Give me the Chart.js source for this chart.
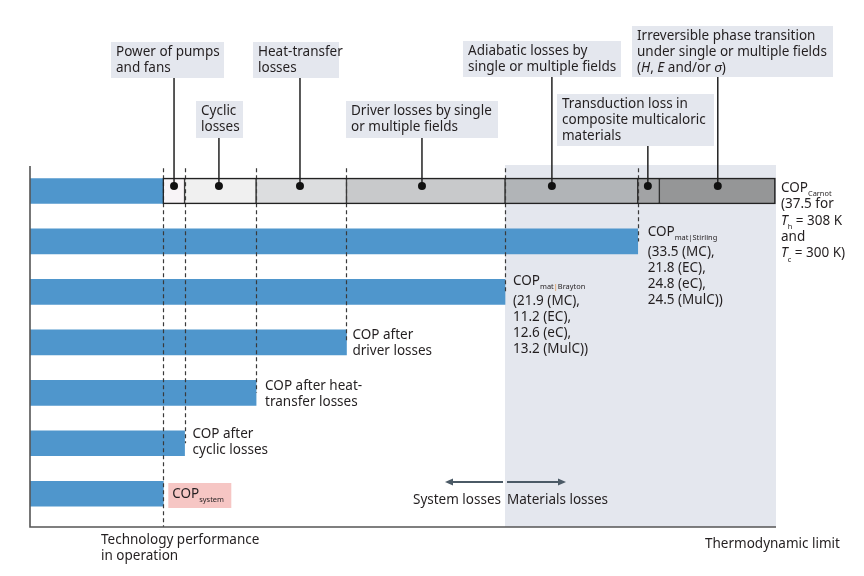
<!DOCTYPE html>
<html>
<head>
<meta charset="utf-8">
<script src="https://cdn.jsdelivr.net/npm/chart.js@4.4.1/dist/chart.umd.min.js"></script>
<style>
  html, body { margin: 0; padding: 0; background: #fff; }
  #wrap { width: 864px; height: 576px; }
</style>
</head>
<body>
<div id="wrap"><canvas id="c"></canvas></div>
<script>
// rows, top to bottom
const rowNames = ['COP_Carnot', 'COP_mat|Stirling', 'COP_mat|Brayton', 'COP after driver losses',
                  'COP after heat-transfer losses', 'COP after cyclic losses', 'COP_system'];
// blue bar length per row (COP scale, Carnot = 37.5)
const copValues = [6.71, 30.59, 23.91, 15.93, 11.38, 7.78, 6.71];

// loss segments stacked on the top row
const lossNames = ['Power of pumps and fans', 'Cyclic losses', 'Heat-transfer losses',
                   'Driver losses by single or multiple fields', 'Adiabatic losses by single or multiple fields',
                   'Transduction loss in composite multicaloric materials',
                   'Irreversible phase transition under single or multiple fields'];
const lossStart = [6.71, 7.78, 11.38, 15.93, 23.91, 30.59, 31.68];
const lossEnd   = [7.78, 11.38, 15.93, 23.91, 30.59, 31.68, 37.5];
// where each callout points on the top bar
const calloutAt = [7.25, 9.51, 13.59, 19.73, 26.27, 31.1, 34.62];

// dashed guides and the row they run down to
const guideValues = [6.71, 7.78, 11.38, 15.93, 23.91, 30.59];
const guideRows   = [6.66, 5, 4, 3, 2, 1];

const copCarnot = 37.5;
const materialsFrom = 23.91;

const FONT = '"Noto Sans"';
const INK = '#231f20';
const BLUE = '#4f96cc';
const lossColors = ['#f8f4f7', '#f0f0f0', '#dcdddf', '#c8c9cb', '#b1b4b7', '#a2a3a5', '#959697'];

// text with italic / subscript pieces
function rich(ctx, x, y, parts, size) {
  for (const p of parts) {
    const s = p.sub ? size * 0.55 : size;
    const dy = p.sub ? size * 0.32 : 0;
    ctx.font = (p.it ? 'italic ' : '') + s + 'px ' + FONT;
    ctx.fillStyle = p.color || INK;
    ctx.fillText(p.t, x, y + dy);
    x += ctx.measureText(p.t).width;
  }
}
function lines(ctx, x, y, arr, size, step) {
  arr.forEach((l, i) => {
    if (typeof l === 'string') l = [{ t: l }];
    rich(ctx, x, y + i * step, l, size);
  });
}

const callouts = [
  { box: [111, 42, 113, 36], text: ['Power of pumps', 'and fans'] },
  { box: [196, 101, 47, 37], text: ['Cyclic', 'losses'] },
  { box: [253, 42, 86, 36], text: ['Heat-transfer', 'losses'] },
  { box: [346, 101, 152, 37], text: ['Driver losses by single', 'or multiple fields'] },
  { box: [463, 41, 158, 36], text: ['Adiabatic losses by', 'single or multiple fields'] },
  { box: [557, 94, 157, 52], text: ['Transduction loss in', 'composite multicaloric', 'materials'] },
  { box: [632, 26, 201, 51], text: ['Irreversible phase transition', 'under single or multiple fields',
      [{ t: '(' }, { t: 'H', it: true }, { t: ', ' }, { t: 'E', it: true }, { t: ' and/or ' }, { t: 'σ', it: true }, { t: ')' }]] }
];

const decor = {
  id: 'decor',
  beforeDatasetsDraw(chart) {
    const { ctx, chartArea: a, scales: { x } } = chart;
    ctx.save();
    ctx.fillStyle = '#e4e7ee';
    ctx.fillRect(x.getPixelForValue(materialsFrom), a.top - 1, x.getPixelForValue(copCarnot) + 1 - x.getPixelForValue(materialsFrom), a.bottom - a.top + 1);
    ctx.restore();
  },
  afterDatasetsDraw(chart) {
    const { ctx, chartArea: a, scales: { x, y } } = chart;
    ctx.save();
    // dashed guides
    ctx.strokeStyle = '#3a3a3a';
    ctx.lineWidth = 1.2;
    ctx.setLineDash([4, 3]);
    guideValues.forEach((v, i) => {
      const px = Math.round(x.getPixelForValue(v)) + 0.5;
      ctx.beginPath();
      ctx.moveTo(px, y.getPixelForValue(-0.45));
      ctx.lineTo(px, y.getPixelForValue(guideRows[i]));
      ctx.stroke();
    });
    ctx.setLineDash([]);
    // outline of the top bar
    ctx.strokeStyle = '#222';
    ctx.lineWidth = 1.2;
    const t0 = y.getPixelForValue(0) - 12.5;
    ctx.strokeRect(x.getPixelForValue(lossStart[0]), t0, x.getPixelForValue(copCarnot) - x.getPixelForValue(lossStart[0]), 25);
    // axes
    ctx.strokeStyle = '#555';
    ctx.lineWidth = 1.6;
    ctx.beginPath();
    ctx.moveTo(a.left, a.top);
    ctx.lineTo(a.left, a.bottom);
    ctx.lineTo(x.getPixelForValue(copCarnot) + 1, a.bottom);
    ctx.stroke();

    // callouts
    ctx.textBaseline = 'alphabetic';
    callouts.forEach((c, i) => {
      const [bx, by, bw, bh] = c.box;
      const px = x.getPixelForValue(calloutAt[i]);
      const py = y.getPixelForValue(-0.1);
      ctx.fillStyle = '#e4e7ee';
      ctx.fillRect(bx, by, bw, bh);
      ctx.strokeStyle = '#222';
      ctx.lineWidth = 1.5;
      ctx.beginPath();
      ctx.moveTo(px, by + bh);
      ctx.lineTo(px, py);
      ctx.stroke();
      ctx.fillStyle = '#111';
      ctx.beginPath();
      ctx.arc(px, py, 4, 0, Math.PI * 2);
      ctx.fill();
      lines(ctx, bx + 5, by + 14, c.text, 13.5, 16);
    });

    // labels at bar ends
    const S = 13.5;
    let lx = x.getPixelForValue(copCarnot) + 6;
    lines(ctx, lx, 192, [[{ t: 'COP' }, { t: 'Carnot', sub: true }], '(37.5 for',
      [{ t: 'T', it: true }, { t: 'h', sub: true }, { t: ' = 308 K' }], 'and',
      [{ t: 'T', it: true }, { t: 'c', sub: true }, { t: ' = 300 K)' }]], S, 16.3);
    lx = x.getPixelForValue(copValues[1]) + 10;
    lines(ctx, lx, 236, [[{ t: 'COP' }, { t: 'mat|Stirling', sub: true }]], S, 16);
    lines(ctx, lx, 256, ['(33.5 (MC),', '21.8 (EC),', '24.8 (eC),', '24.5 (MulC))'], S, 16);
    lx = x.getPixelForValue(copValues[2]) + 8;
    lines(ctx, lx, 285, [[{ t: 'COP' }, { t: 'mat', sub: true }, { t: '|', sub: true, color: '#d9822b' }, { t: 'Brayton', sub: true }]], S, 16);
    lines(ctx, lx, 305, ['(21.9 (MC),', '11.2 (EC),', '12.6 (eC),', '13.2 (MulC))'], S, 16);
    lines(ctx, x.getPixelForValue(copValues[3]) + 6, 339, ['COP after', 'driver losses'], S, 15.5);
    lines(ctx, x.getPixelForValue(copValues[4]) + 9, 390, ['COP after heat-', 'transfer losses'], S, 15.5);
    lines(ctx, x.getPixelForValue(copValues[5]) + 8, 438, ['COP after', 'cyclic losses'], S, 15.5);
    const sx = x.getPixelForValue(copValues[6]) + 5;
    ctx.fillStyle = '#f6c6c4';
    ctx.fillRect(sx, 483, 63, 25);
    rich(ctx, sx + 4, 498, [{ t: 'COP' }, { t: 'system', sub: true }], S);

    // system / materials arrows
    const mx = x.getPixelForValue(materialsFrom);
    const ay = 482;
    ctx.strokeStyle = '#4b5a66';
    ctx.fillStyle = '#4b5a66';
    ctx.lineWidth = 2;
    const arrow = (x0, x1) => {
      const d = Math.sign(x1 - x0);
      ctx.beginPath();
      ctx.moveTo(x0, ay);
      ctx.lineTo(x1 - d * 6, ay);
      ctx.stroke();
      ctx.beginPath();
      ctx.moveTo(x1, ay);
      ctx.lineTo(x1 - d * 8, ay - 3.5);
      ctx.lineTo(x1 - d * 8, ay + 3.5);
      ctx.closePath();
      ctx.fill();
    };
    arrow(mx - 2, mx - 60);
    arrow(mx + 2, mx + 61);
    ctx.textAlign = 'right';
    rich(ctx, mx - 4, 504, [{ t: 'System losses' }], S);
    ctx.textAlign = 'left';
    rich(ctx, mx + 2, 504, [{ t: 'Materials losses' }], S);

    lines(ctx, 101, 544, ['Technology performance', 'in operation'], S, 16);
    rich(ctx, 705, 548, [{ t: 'Thermodynamic limit' }], S);
    ctx.restore();
  }
};

const datasets = [{
  label: 'COP',
  data: copValues.map((v, i) => ({ x: v, y: i })),
  backgroundColor: BLUE,
  borderWidth: 0,
  grouped: false,
  barThickness: 25
}].concat(lossNames.map((name, i) => ({
  label: name,
  data: [{ x: [lossStart[i], lossEnd[i]], y: 0 }],
  backgroundColor: lossColors[i],
  borderColor: '#2a2a2a',
  borderWidth: 1,
  borderSkipped: false,
  grouped: false,
  barThickness: 25
})));

new Chart(document.getElementById('c'), {
  type: 'bar',
  data: { datasets },
  options: {
    indexAxis: 'y',
    responsive: true,
    maintainAspectRatio: false,
    animation: false,
    layout: { padding: { left: 30, right: 89, top: 166, bottom: 49 } },
    scales: {
      x: { type: 'linear', min: 0, max: copCarnot, display: false },
      y: { type: 'linear', min: -0.495, max: 6.659, reverse: true, offset: false, display: false }
    },
    plugins: { legend: { display: false }, tooltip: { enabled: false } }
  },
  plugins: [decor]
});
</script>
</body>
</html>
